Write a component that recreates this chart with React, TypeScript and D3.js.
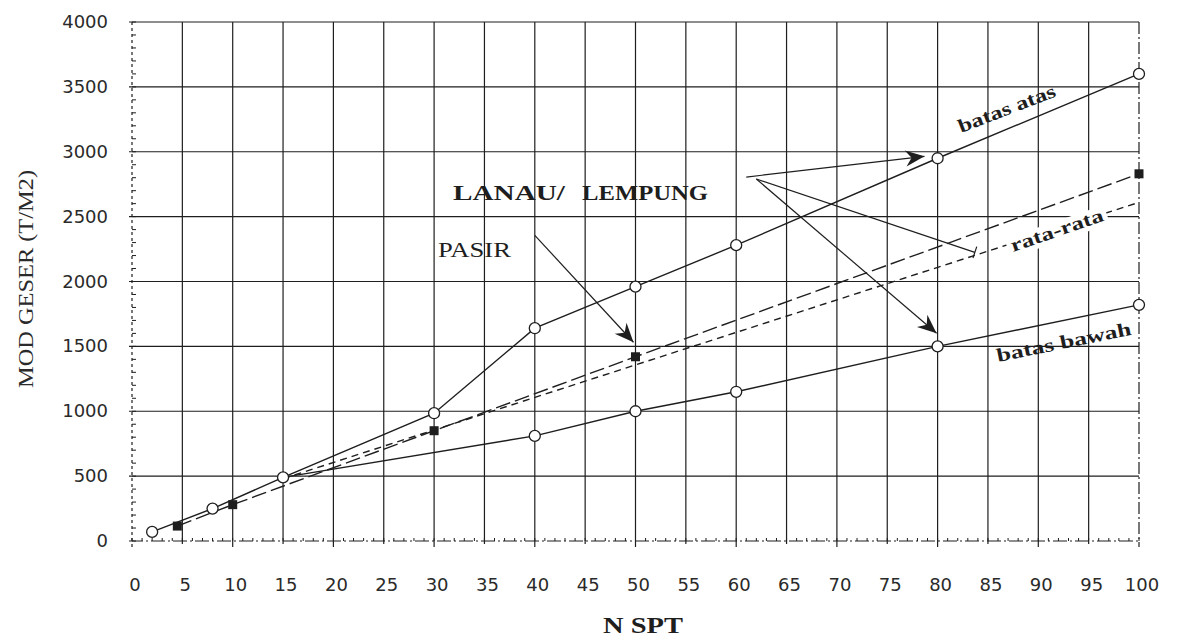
import React from "react";
import * as d3 from "d3";

// ---- data ----
const xTicks = d3.range(0, 101, 5);
const yTicks = d3.range(0, 4001, 500);

const upperN = [2, 8, 15, 30, 40, 50, 60, 80, 100];
const upperV = [70, 250, 490, 985, 1640, 1960, 2280, 2950, 3600];

const lowerN = [15, 40, 50, 60, 80, 100];
const lowerV = [490, 810, 1000, 1150, 1500, 1820];

const pasirN = [4.5, 10, 30, 50, 100];
const pasirV = [115, 280, 850, 1420, 2830];

const avgN = [15, 100];
const avgV = [480, 2610];

// annotation arrows in data units [N, value]
const arrowFrom = [[61, 2805], [62, 2790], [62, 2790], [40, 2356]];
const arrowTo = [[78.7, 2965], [83.7, 2225], [79.9, 1601], [49.8, 1532]];
const arrowHead = ["filled", "open", "filled", "filled"];

const W = 1179;
const H = 641;

const x = d3.scaleLinear().domain([0, 100]).range([132, 1139]);
const y = d3.scaleLinear().domain([0, 4000]).range([541, 22]);

const ink = "#1e1e1e";

function zip(ns: number[], vs: number[]) {
  return ns.map((n, i) => [n, vs[i]] as [number, number]);
}

const line = d3
  .line<[number, number]>()
  .x((d) => x(d[0]))
  .y((d) => y(d[1]));

function arrowHeadPath(fx: number, fy: number, tx: number, ty: number) {
  const dx = tx - fx;
  const dy = ty - fy;
  const len = Math.hypot(dx, dy);
  const ux = dx / len;
  const uy = dy / len;
  const nx = -uy;
  const ny = ux;
  const L = 19;
  const w = 8;
  const notch = 6;
  const p = [
    [tx, ty],
    [tx - L * ux + w * nx, ty - L * uy + w * ny],
    [tx - (L - notch) * ux, ty - (L - notch) * uy],
    [tx - L * ux - w * nx, ty - L * uy - w * ny],
  ];
  return "M" + p.map((q) => q.join(",")).join("L") + "Z";
}

export default function App() {
  const upper = zip(upperN, upperV);
  const lower = zip(lowerN, lowerV);
  const pasir = zip(pasirN, pasirV);
  const avg = zip(avgN, avgV);
  const minorY = d3.range(0, 4001, 100);
  const minorX = d3.range(0, 101, 1);

  return (
    <svg
      width={W}
      height={H}
      style={{ position: "absolute", left: 0, top: 0, background: "#fff" }}
    >
      <rect x={0} y={0} width={W} height={H} fill="#fff" />
      {/* grid */}
      <g stroke={ink} strokeWidth={1.2}>
        {xTicks.map((t) => (
          <line
            key={"vx" + t}
            x1={x(t)}
            x2={x(t)}
            y1={y(4000)}
            y2={y(0) + (t % 10 === 0 ? 6 : 3)}
            strokeDasharray={t === 0 ? "3 3" : t === 100 ? "12 3 2 3" : undefined}
          />
        ))}
        {yTicks.map((t) => (
          <line
            key={"hy" + t}
            x1={x(0) - 3}
            x2={x(100)}
            y1={y(t)}
            y2={y(t)}
            strokeDasharray={t === 0 ? "14 3 2 3" : undefined}
          />
        ))}
      </g>
      {/* minor ticks */}
      <g stroke={ink} strokeWidth={1}>
        {minorY.map((t) => (
          <line key={"my" + t} x1={x(0)} x2={x(0) + 4} y1={y(t)} y2={y(t)} />
        ))}
        {minorX.map((t) => (
          <line key={"mx" + t} x1={x(t)} x2={x(t)} y1={y(0)} y2={y(0) - 3} />
        ))}
      </g>
      {/* tick labels */}
      <g fontFamily="DejaVu Sans" fontSize={18} fill="#2a2a2a">
        {yTicks.map((t) => (
          <text key={"yl" + t} x={108} y={y(t) + 6} textAnchor="end">
            {t}
          </text>
        ))}
        {xTicks.map((t) => (
          <text key={"xl" + t} x={x(t) + 3} y={591} textAnchor="middle">
            {t}
          </text>
        ))}
      </g>
      {/* axis titles */}
      <text
        x={643}
        y={633}
        fontFamily="Liberation Serif"
        fontWeight="bold"
        fontSize={24}
        textAnchor="middle"
        fill={ink}
        textLength={80}
        lengthAdjust="spacingAndGlyphs"
      >
        N SPT
      </text>
      <text
        transform="translate(33,279) rotate(-90)"
        fontFamily="Liberation Serif"
        fontSize={22}
        textAnchor="middle"
        fill="#2a2a2a"
        textLength={218}
        lengthAdjust="spacingAndGlyphs"
      >
        MOD GESER (T/M2)
      </text>

      {/* series lines */}
      <g fill="none" stroke={ink} strokeWidth={1.4}>
        <path d={line(upper) || ""} />
        <path d={line(lower) || ""} />
        <path d={line(pasir) || ""} strokeDasharray="15 5" />
        <path d={line(avg) || ""} strokeDasharray="7 5" />
      </g>

      {/* markers */}
      <g fill="#fff" stroke={ink} strokeWidth={1.3}>
        {upper.map((d, i) => (
          <circle key={"uc" + i} cx={x(d[0])} cy={y(d[1])} r={5.5} />
        ))}
        {lower.slice(1).map((d, i) => (
          <circle key={"lc" + i} cx={x(d[0])} cy={y(d[1])} r={5.5} />
        ))}
      </g>
      <g fill={ink}>
        {pasir.map((d, i) => (
          <rect key={"sq" + i} x={x(d[0]) - 4.5} y={y(d[1]) - 4.5} width={9} height={9} />
        ))}
      </g>

      {/* annotation arrows */}
      <g stroke={ink} strokeWidth={1.2} fill={ink}>
        {arrowFrom.map((f, i) => {
          const fx = x(f[0]);
          const fy = y(f[1]);
          const tx = x(arrowTo[i][0]);
          const ty = y(arrowTo[i][1]);
          const dx = tx - fx;
          const dy = ty - fy;
          const len = Math.hypot(dx, dy);
          const nx = -dy / len;
          const ny = dx / len;
          return (
            <g key={"ar" + i}>
              <line x1={fx} y1={fy} x2={tx} y2={ty} />
              {arrowHead[i] === "filled" ? (
                <path d={arrowHeadPath(fx, fy, tx, ty)} stroke="none" />
              ) : (
                <line
                  x1={tx - 6 * nx}
                  y1={ty - 6 * ny}
                  x2={tx + 6 * nx}
                  y2={ty + 6 * ny}
                />
              )}
            </g>
          );
        })}
      </g>

      {/* labels */}
      <g fontFamily="Liberation Serif" fill={ink}>
        <text x={453} y={200} fontSize={22} fontWeight="bold" textLength={112} lengthAdjust="spacingAndGlyphs">
          LANAU/
        </text>
        <text x={582} y={200} fontSize={22} fontWeight="bold" textLength={126} lengthAdjust="spacingAndGlyphs">
          LEMPUNG
        </text>
        <text x={438} y={257} fontSize={21} textLength={73} lengthAdjust="spacingAndGlyphs">
          PASIR
        </text>
        <g transform="translate(961,133) rotate(-21)">
          <text fontSize={19} fontWeight="bold" textLength={103} lengthAdjust="spacingAndGlyphs">
            batas atas
          </text>
        </g>
        <g transform="translate(1013,252) rotate(-19)">
          <rect x={-4} y={-15} width={105} height={20} fill="#fff" />
          <text fontSize={19} fontWeight="bold" textLength={97} lengthAdjust="spacingAndGlyphs">
            rata-rata
          </text>
        </g>
        <g transform="translate(998,362) rotate(-11.5)">
          <text fontSize={19} fontWeight="bold" textLength={137} lengthAdjust="spacingAndGlyphs">
            batas bawah
          </text>
        </g>
      </g>
    </svg>
  );
}
